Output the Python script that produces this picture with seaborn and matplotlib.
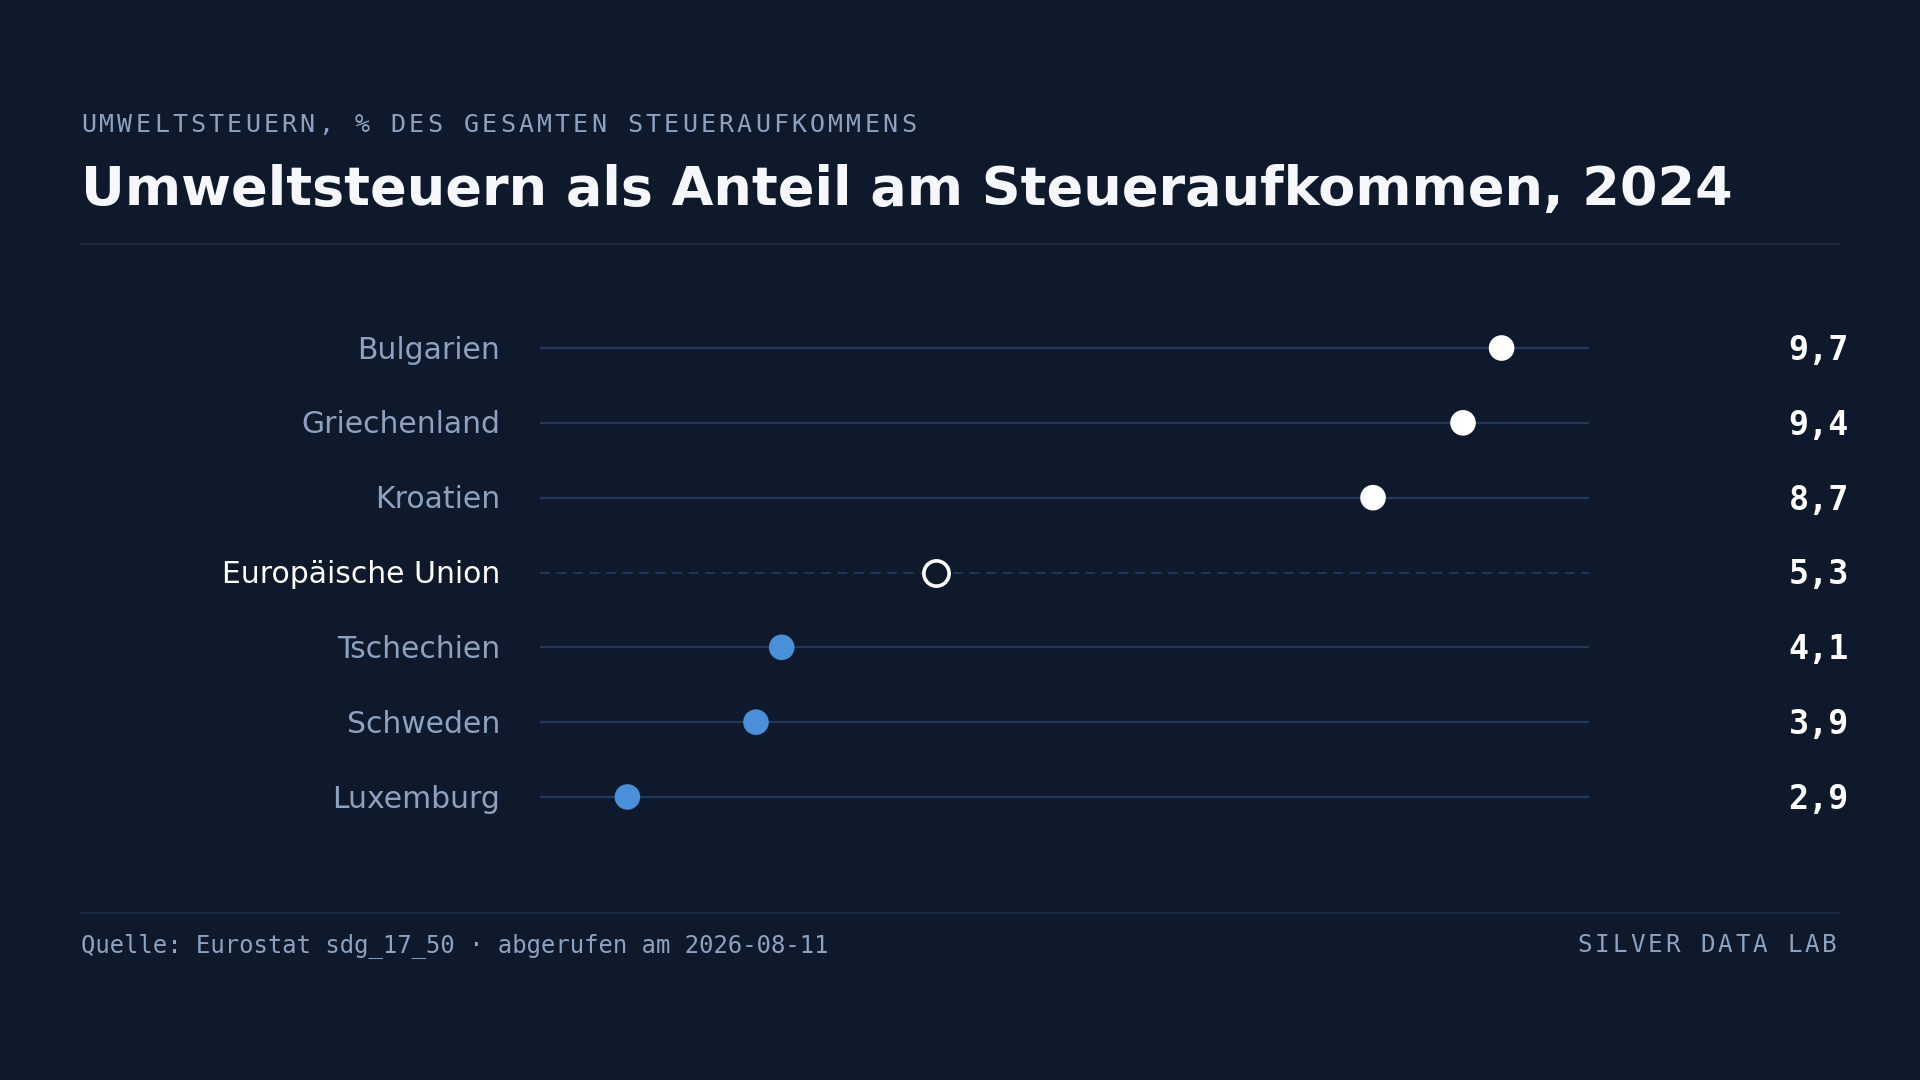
import matplotlib
matplotlib.use("Agg")
import matplotlib.pyplot as plt
import matplotlib.transforms as mtransforms
from matplotlib.lines import Line2D
import pandas as pd
import seaborn as sns

# Daten
laender = ["Bulgarien", "Griechenland", "Kroatien", "Europäische Union",
           "Tschechien", "Schweden", "Luxemburg"]
werte = [9.7, 9.4, 8.7, 5.3, 4.1, 3.9, 2.9]
eu_name = "Europäische Union"

obertitel = "UMWELTSTEUERN, % DES GESAMTEN STEUERAUFKOMMENS"
titel = "Umweltsteuern als Anteil am Steueraufkommen, 2024"
quelle = "Quelle: Eurostat sdg_17_50 · abgerufen am 2026-08-11"
marke = "SILVER DATA LAB"

BG = "#0e1a2b"
LABEL = "#8da2bf"
WEISS = "#ffffff"
BLAU = "#4a8fd9"
LINIE = "#22385a"
TRENN = "#1a2a40"

sns.set_theme(style="dark", rc={"axes.facecolor": BG, "figure.facecolor": BG})
plt.rcParams["font.family"] = ["DejaVu Sans"]

df = pd.DataFrame({"land": laender, "wert": werte})
df["pos"] = range(len(df))
eu_wert = df.loc[df["land"] == eu_name, "wert"].iloc[0]
df["gruppe"] = ["eu" if l == eu_name else ("ueber" if w > eu_wert else "unter")
                for l, w in zip(df["land"], df["wert"])]

fig = plt.figure(figsize=(19.2, 10.8), dpi=100)
W, H = 1920, 1080
# Plotbereich: x 540..1589 px, Zeilen bei 348..797 px
ax = fig.add_axes([540 / W, 1 - 834.4 / H, 1049 / W, 523.8 / H])
ax.set_facecolor(BG)

spanne = df["wert"].max() - df["wert"].min()
x0, x1 = df["wert"].min() - 0.1 * spanne, df["wert"].max() + 0.1 * spanne
ax.set_xlim(x0, x1)
ax.set_ylim(len(df) - 0.5, -0.5)

# Zeilenlinien
for _, r in df.iterrows():
    if r["land"] == eu_name:
        ax.hlines(r["pos"], x0, x1, color=LINIE, lw=1.4, ls=(0, (5, 3.5)), zorder=1)
    else:
        ax.hlines(r["pos"], x0, x1, color=LINIE, lw=1.6, zorder=1)

# Punkte
gefuellt = df[df["gruppe"] != "eu"]
sns.scatterplot(data=gefuellt, x="wert", y="pos", hue="gruppe",
                palette={"ueber": WEISS, "unter": BLAU}, s=340,
                edgecolor="none", legend=False, ax=ax, zorder=3)
sns.scatterplot(data=df[df["gruppe"] == "eu"], x="wert", y="pos", s=330,
                color=BG, edgecolor=WEISS, linewidth=2.6, legend=False,
                ax=ax, zorder=3)

ax.set_xlabel("")
ax.set_ylabel("")
ax.set_xticks([])
ax.set_yticks([])
for s in ax.spines.values():
    s.set_visible(False)
ax.grid(False)

# Beschriftungen links und Werte rechts
ytr = ax.get_yaxis_transform()
lab_tr = mtransforms.offset_copy(ytr, fig=fig, y=-7.6, units="points")
val_tr = mtransforms.offset_copy(ytr, fig=fig, y=-8.6, units="points")
for _, r in df.iterrows():
    farbe = WEISS if r["land"] == eu_name else LABEL
    ax.text((500 - 540) / 1049, r["pos"], r["land"], transform=lab_tr,
            ha="right", va="baseline", fontsize=21.5, color=farbe)
    ax.text((1849 - 540) / 1049, r["pos"], f"{r['wert']:.1f}".replace(".", ","),
            transform=val_tr, ha="right", va="baseline", fontsize=24,
            fontweight="bold", family="DejaVu Sans Mono", color=WEISS)


def gesperrt(text, x_links, y_base, abstand, groesse):
    # Text mit Sperrung: Zeichen einzeln im festen Raster setzen
    for i, ch in enumerate(text):
        if ch == " ":
            continue
        fig.text((x_links + i * abstand) / W, 1 - y_base / H, ch, ha="left",
                 va="baseline", fontsize=groesse, family="DejaVu Sans Mono",
                 color=LABEL)


# Kopf
gesperrt(obertitel, 81, 132, 18.22, 18)
fig.text(81 / W, 1 - 205 / H, titel, ha="left", va="baseline",
         fontsize=38.85, fontweight="bold", color="#f5f7fa")
fig.add_artist(Line2D([81 / W, 1839 / W], [1 - 244 / H, 1 - 244 / H],
                      color=TRENN, lw=1.5, transform=fig.transFigure))

# Fuss
fig.add_artist(Line2D([81 / W, 1839 / W], [1 - 913 / H, 1 - 913 / H],
                      color=TRENN, lw=1.5, transform=fig.transFigure))
fig.text(81 / W, 1 - 952 / H, quelle, ha="left", va="baseline",
         fontsize=17.2, family="DejaVu Sans Mono", color=LABEL)
gesperrt(marke, 1835.5 - 14 * 17.5 - 13, 952, 17.5, 17.5)

fig.savefig("out.png", dpi=100, facecolor=BG)
